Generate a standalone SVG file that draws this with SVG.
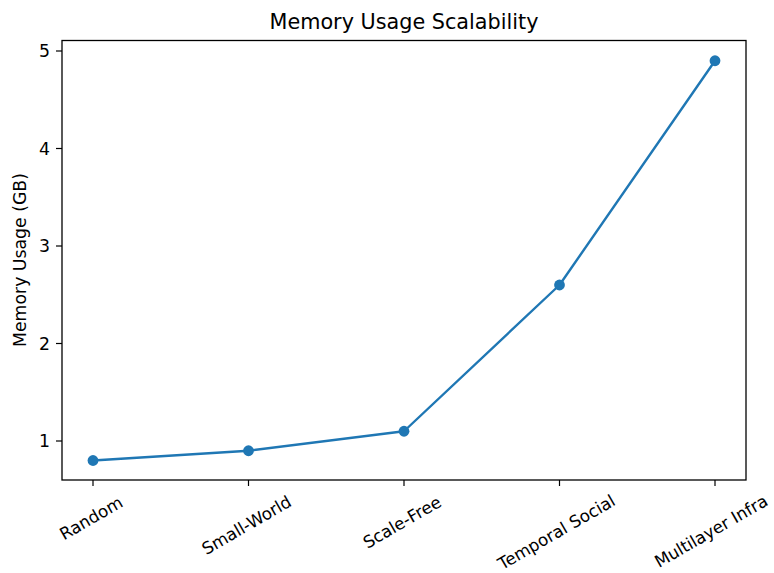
<svg xmlns="http://www.w3.org/2000/svg" width="774" height="573" viewBox="0 0 774 573">
<style>
text{font-family:"DejaVu Sans","Liberation Sans",sans-serif;fill:#000}
.tick{font-size:17.3px}
.xt{font-size:16.8px}
.tl{stroke:#000;stroke-width:1.2}
.xl{text-anchor:middle;dominant-baseline:central}
.yl{text-anchor:end;dominant-baseline:central}
.ln{fill:none;stroke:#1f77b4;stroke-width:2.4;stroke-linejoin:round;stroke-linecap:round}
.mk{fill:#1f77b4}
</style>
<rect width="774" height="573" fill="#fff"/>
<g id="title"><text x="404" y="29" text-anchor="middle" font-size="20.75">Memory Usage Scalability</text></g>
<g id="axes">
<rect x="62" y="40.5" width="684" height="439.5" fill="none" stroke="#000" stroke-width="1.3"/>
<g id="yticks">
<line class="tl" x1="56" y1="441" x2="62" y2="441"/>
<line class="tl" x1="56" y1="343.5" x2="62" y2="343.5"/>
<line class="tl" x1="56" y1="246" x2="62" y2="246"/>
<line class="tl" x1="56" y1="148.5" x2="62" y2="148.5"/>
<line class="tl" x1="56" y1="51" x2="62" y2="51"/>
<text class="tick yl" x="50" y="441">1</text>
<text class="tick yl" x="50" y="343.5">2</text>
<text class="tick yl" x="50" y="246">3</text>
<text class="tick yl" x="50" y="148.5">4</text>
<text class="tick yl" x="50" y="51">5</text>
</g>
<g id="xticks">
<line class="tl" x1="93" y1="480" x2="93" y2="486"/>
<line class="tl" x1="248.5" y1="480" x2="248.5" y2="486"/>
<line class="tl" x1="404" y1="480" x2="404" y2="486"/>
<line class="tl" x1="559.5" y1="480" x2="559.5" y2="486"/>
<line class="tl" x1="715" y1="480" x2="715" y2="486"/>
<text class="xt xl" x="91" y="518" transform="rotate(-30 91 518)">Random</text>
<text class="xt xl" x="246.5" y="525" transform="rotate(-30 246.5 525)">Small-World</text>
<text class="xt xl" x="402" y="522" transform="rotate(-30 402 522)">Scale-Free</text>
<text class="xt xl" x="556.5" y="532" transform="rotate(-30 556.5 532)">Temporal Social</text>
<text class="xt xl" x="711" y="531" transform="rotate(-30 711 531)">Multilayer Infra</text>
</g>
<g id="ylabel"><text class="tick" x="26" y="260" text-anchor="middle" transform="rotate(-90 26 260)">Memory Usage (GB)</text></g>
</g>
<g id="series">
<polyline class="ln" points="93,460.5 248.5,450.75 404,431.25 559.5,285 715,60.75"/>
<circle class="mk" cx="93" cy="460.5" r="5.4"/>
<circle class="mk" cx="248.5" cy="450.75" r="5.4"/>
<circle class="mk" cx="404" cy="431.25" r="5.4"/>
<circle class="mk" cx="559.5" cy="285" r="5.4"/>
<circle class="mk" cx="715" cy="60.75" r="5.4"/>
</g>
</svg>
